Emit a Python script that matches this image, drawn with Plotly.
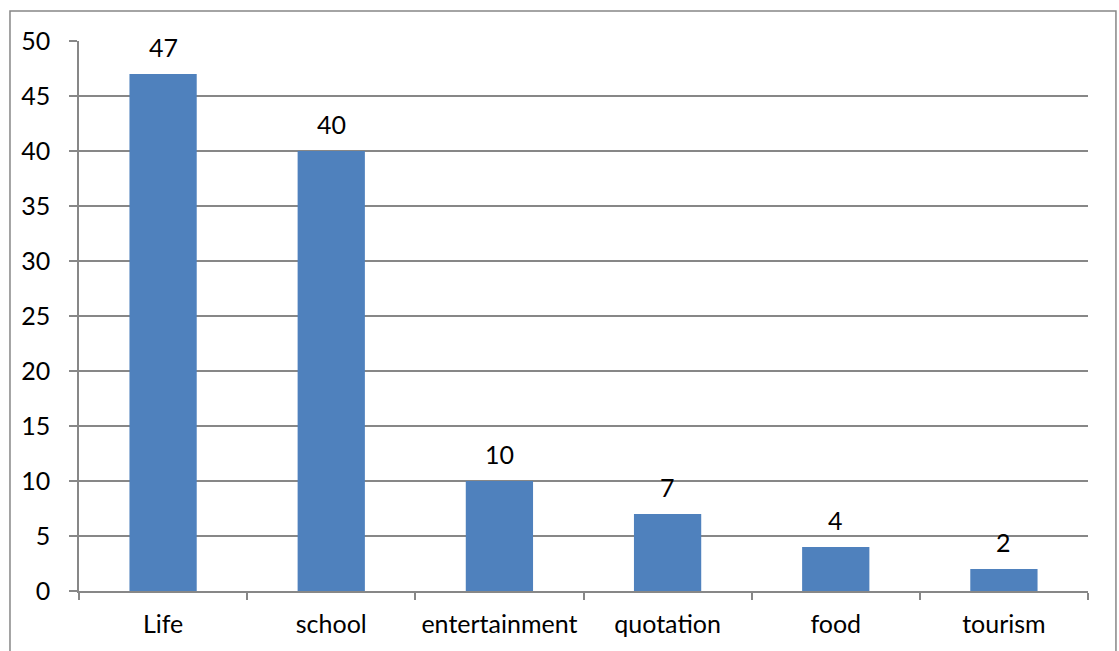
import plotly.graph_objects as go

categories = ["Life", "school", "entertainment", "quotation", "food", "tourism"]
counts = [47, 40, 10, 7, 4, 2]
y_ticks = [0, 5, 10, 15, 20, 25, 30, 35, 40, 45, 50]

bar_color = "#4F81BD"
grid_color = "#878787"
font_family = "Lato, 'Liberation Sans', sans-serif"
font_size = 25

fig = go.Figure(
    go.Bar(
        x=categories,
        y=counts,
        marker=dict(color=bar_color, line=dict(width=0)),
        hoverinfo="x+y",
    )
)

# value labels above each bar
for cat, val in zip(categories, counts):
    fig.add_annotation(
        x=cat, y=val, xref="x", yref="y",
        text=str(val), showarrow=False,
        yshift=27, font=dict(size=font_size, color="#000000", family=font_family),
    )

# frame around the whole chart area
fig.add_shape(
    type="rect", xref="paper", yref="paper",
    x0=-0.0684, x1=1.0277, y0=-0.2, y1=1.0545,
    line=dict(color=grid_color, width=1.5), fillcolor="rgba(0,0,0,0)",
    layer="below",
)

fig.update_layout(
    width=1119, height=651,
    margin=dict(l=79, r=31, t=41, b=60),
    paper_bgcolor="white", plot_bgcolor="white",
    bargap=0.6,
    showlegend=False,
    font=dict(family=font_family, size=font_size, color="#000000"),
)

fig.update_xaxes(
    type="category",
    showgrid=False,
    showline=True, linecolor=grid_color, linewidth=1.5,
    ticks="outside", ticklen=7, tickcolor=grid_color, tickwidth=1.5,
    tickson="boundaries",
    ticklabelstandoff=10,
    tickfont=dict(size=font_size, family=font_family),
)

fig.update_yaxes(
    range=[0, 50],
    tickvals=y_ticks,
    showgrid=True, gridcolor=grid_color, gridwidth=1.5,
    showline=True, linecolor=grid_color, linewidth=1.5,
    ticks="outside", ticklen=8, tickcolor=grid_color, tickwidth=1.5,
    ticklabelstandoff=14,
    zeroline=False,
    tickfont=dict(size=font_size, family=font_family),
)

fig.write_html("out.html")
